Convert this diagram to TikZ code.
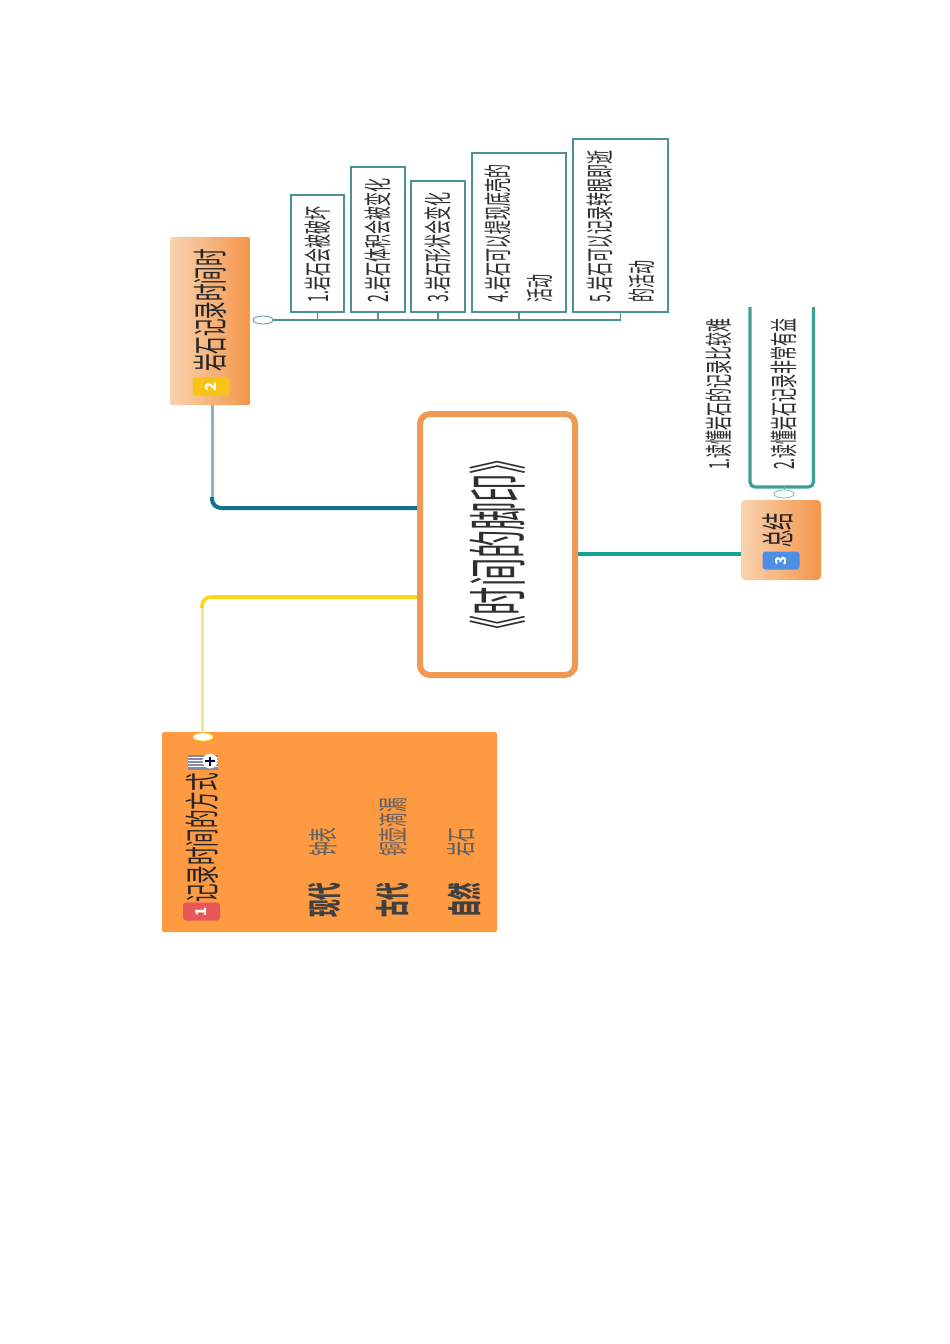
\documentclass[tikz,border=0pt]{standalone}
\usepackage{fontspec}
\setmainfont{Noto Sans CJK SC}
\usetikzlibrary{shapes.geometric,calc}
\definecolor{orangeA}{HTML}{EE9A55}
\definecolor{orangeB}{HTML}{FD9A42}
\definecolor{orangeL}{HTML}{F9D3B0}
\definecolor{orangeD}{HTML}{F4964A}
\definecolor{tealbox}{HTML}{4C9294}
\definecolor{tealsum}{HTML}{3F9E92}
\definecolor{ink}{HTML}{2E2E2E}
\definecolor{conblue}{HTML}{0E7488}
\definecolor{conbluel}{HTML}{8FB3C2}
\definecolor{conyel}{HTML}{FBD716}
\definecolor{conyell}{HTML}{F6E78C}
\definecolor{congreen}{HTML}{12A594}
\definecolor{badgeR}{HTML}{E8585A}
\definecolor{badgeY}{HTML}{F6C418}
\definecolor{badgeB}{HTML}{4C8FE4}
\newcommand{\sq}[2]{\scalebox{#1}[1]{#2}}
\tikzset{
  base/.style={rotate=90,inner sep=0pt,text=ink},
  rootbox/.style={base,draw=orangeA,line width=6pt,rounded corners=10pt,fill=white,minimum width=261pt,minimum height=155pt,font=\fontsize{60}{62}\selectfont},
  topic/.style={base,left color=orangeL,right color=orangeD,rounded corners=1.5pt},
  leaf/.style={base,draw=tealbox,line width=1.3pt,fill=white,align=left,inner xsep=10pt,inner ysep=0pt,font=\fontsize{28}{42}\selectfont},
  plain/.style={base,align=left,font=\fontsize{28}{42}\selectfont},
  head/.style={base,anchor=west,font=\fontsize{35}{36}\selectfont,text=black!85},
  era/.style={base,anchor=west,font=\fontsize{34}{36}\selectfont\bfseries,text=black!75},
  item/.style={base,anchor=west,font=\fontsize{30}{32}\selectfont,text=black!62},
  badge/.style={rotate=90,rounded corners=3pt,text=white,inner sep=0pt,minimum width=18pt,minimum height=37pt,font=\fontsize{15}{16}\selectfont\bfseries},
  fold/.style={ellipse,draw=#1,line width=.8pt,fill=white,inner sep=0pt,minimum width=20pt,minimum height=8pt},
}
\begin{document}
\begin{tikzpicture}[x=1pt,y=-1pt]
\useasboundingbox (0,0) rectangle (950,1344);
% root
\node[rootbox] (root) at (497.5,544.5) {\sq{.47}{《时间的脚印》}};
% topic panels
\node[base,fill=orangeB,rounded corners=1.5pt,minimum width=200pt,minimum height=335pt] (t1) at (329.5,832) {};
\node[topic,minimum width=168pt,minimum height=80pt] (t2) at (210,321) {};
\node[topic,minimum width=80pt,minimum height=80pt,rounded corners=4pt] (t3) at (781,540) {};
% anchors on the root and topics for the connectors
\coordinate (rA) at (417,508);
\coordinate (rB) at (417,597);
\coordinate (rC) at (578,554);
\coordinate (t2in) at (212,405);
\coordinate (t2bend) at (212,497);
\coordinate (t1in) at (202,733);
\coordinate (t1bend) at (202,608);
\coordinate (t3in) at (741,554);
% connectors
\draw[line width=3pt,draw=conbluel] (t2in) -- (t2bend);
\draw[line width=4pt,draw=conblue,rounded corners=9pt] (rA) -| (t2bend);
\draw[line width=3pt,draw=conyell] (t1in) -- (t1bend);
\draw[line width=3.6pt,draw=conyel,rounded corners=9pt] (rB) -| (t1bend);
\draw[line width=3.5pt,draw=congreen] (rC) -- (t3in);
% topic 1 content
\node[badge,fill=badgeR] (b1) at (201.5,911.5) {1};
\node[head] (h1) at (202,903) {\sq{.53}{记录时间的方式}};
\node[era] (e1) at (325,918) {\sq{.52}{现代}};
\node[item] (i1) at (323,857) {\sq{.49}{钟表}};
\node[era] (e2) at (393,918) {\sq{.52}{古代}};
\node[item] (i2) at (393,857) {\sq{.49}{铜壶滴漏}};
\node[era] (e3) at (464,918) {\sq{.52}{自然}};
\node[item] (i3) at (461,857) {\sq{.49}{岩石}};
% attachment icon
\fill[white!60!blue!30!gray] (188,755) rectangle (218,770);
\foreach \yy in {757.5,760.5,763.5,766.5} \draw[white,line width=.8pt] (188,\yy) -- (218,\yy);
\fill[white] (210,761) circle (7.5pt);
\draw[black!70!blue,line width=1.1pt] (205,761) -- (215,761) (210,756.5) -- (210,765.5);
\node[fold=conyel] (f1) at (203,737) {};
% topic 2 content
\node[badge,fill=badgeY] (b2) at (211,386.5) {2};
\node[head] (h2) at (210.5,372) {\sq{.50}{岩石记录时间时}};
\node[fold=tealbox] (f2) at (263,320) {};
\node[leaf,minimum width=117pt,minimum height=53pt,text width=97pt] (l1) at (317.5,253.5) {\sq{.5}{1.岩石会被破坏}};
\node[leaf,minimum width=145pt,minimum height=54pt,text width=125pt] (l2) at (378,239.5) {\sq{.5}{2.岩石体积会被变化}};
\node[leaf,minimum width=131pt,minimum height=54pt,text width=111pt] (l3) at (438,246.5) {\sq{.5}{3.岩石形状会变化}};
\node[leaf,minimum width=159pt,minimum height=94pt,text width=139pt] (l4) at (519,232.5) {\sq{.5}{4.岩石可以提现底壳的}\\[0pt]\sq{.5}{活动}};
\node[leaf,minimum width=173pt,minimum height=95pt,text width=153pt] (l5) at (620.5,225.5) {\sq{.5}{5.岩石可以记录转眼即逝}\\[0pt]\sq{.5}{的活动}};
\draw[tealbox,line width=1.3pt] (f2) -- (l5.west |- f2);
\foreach \n in {l1,l2,l3,l4,l5} \draw[tealbox,line width=1.3pt] (\n.west) -- (\n.west |- f2);
% topic 3 content
\node[badge,fill=badgeB] (b3) at (781,560.5) {3};
\node[head,font=\fontsize{33}{34}\selectfont] (h3) at (778,548) {\sq{.53}{总结}};
\node[plain] (s1) at (719,394) {\sq{.5}{1.读懂岩石的记录比较难}};
\node[plain] (s2) at (784,394) {\sq{.5}{2.读懂岩石记录非常有益}};
\node[fold=tealsum!70!white] (f3) at (784,494) {};
\coordinate (sl) at (750,307);
\coordinate (sr) at (813.5,307);
\coordinate (sb) at (750,487);
\draw[tealsum,line width=3.2pt,rounded corners=5pt] (sl) -- (sb) -- (sr |- sb) -- (sr);
\draw[tealsum!70!white,line width=1pt] (f3) -- (f3 |- sb);
\end{tikzpicture}
\end{document}
